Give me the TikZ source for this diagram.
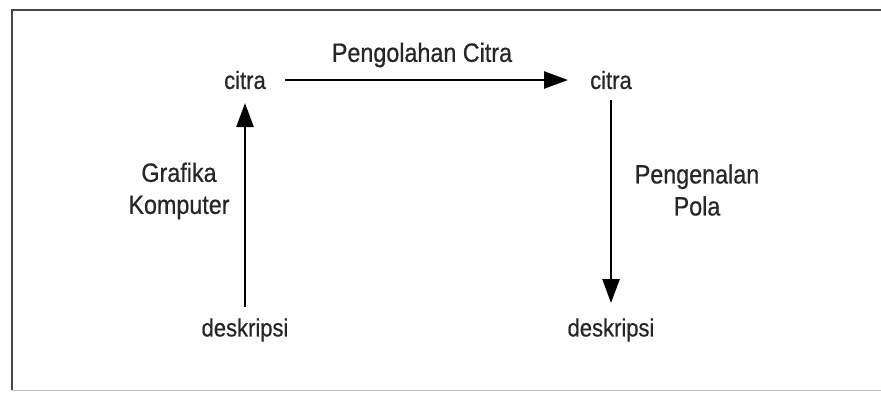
\documentclass[tikz,border=0pt]{standalone}
\usepackage{fontspec}
\setmainfont{Liberation Sans}[FakeStretch=0.88,FakeBold=0.6]
\usetikzlibrary{arrows.meta}
\begin{document}
\begin{tikzpicture}[x=1pt,y=-1pt,
  term/.style={font=\fontsize{25}{29}\selectfont, text=black!85, inner sep=0pt},
  lbl/.style={font=\fontsize{26.5}{32}\selectfont, text=black!85, inner sep=0pt, align=center},
  conn/.style={line width=2.6pt, -{Triangle[length=24pt,width=17pt]}}]
\useasboundingbox (0,0) rectangle (881,392);
\draw[line width=2.5pt, black!72] (12,390) -- (12,10) -- (900,10);
\draw[line width=1pt, black!25] (12,390.5) -- (900,390.5);
\node[term] (c1) at (245,80) {citra};
\node[term] (c2) at (611,80) {citra};
\node[term] (d1) at (245,330) {deskripsi};
\node[term] (d2) at (611,330) {deskripsi};
\coordinate (h1) at (285,80);
\coordinate (h2) at (568,80);
\coordinate (v1a) at (245,307);
\coordinate (v1b) at (245,103);
\coordinate (v2a) at (611,100);
\coordinate (v2b) at (611,303);
\draw[conn] (h1) -- (h2);
\draw[conn] (v1a) -- (v1b);
\draw[conn] (v2a) -- (v2b);
\node[lbl] (l1) at (422,55) {Pengolahan Citra};
\node[lbl] (l2) at (179,191) {Grafika\\Komputer};
\node[lbl] (l3) at (697,190) {Pengenalan\\Pola};
\end{tikzpicture}
\end{document}
